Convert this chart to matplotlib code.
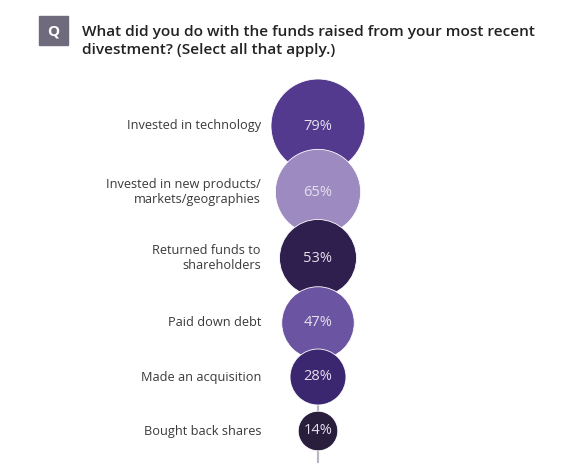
import matplotlib.pyplot as plt
from matplotlib.patches import Rectangle

plt.rcParams['font.family'] = ['Open Sans', 'DejaVu Sans']

# data
labels = ['Invested in technology',
          'Invested in new products/\nmarkets/geographies',
          'Returned funds to\nshareholders',
          'Paid down debt',
          'Made an acquisition',
          'Bought back shares']
values = [79, 65, 53, 47, 28, 14]
colors = ['#533a8e', '#9d8ac1', '#2e1f4f', '#6b54a1', '#3b2670', '#2a1e3d']

title = ('What did you do with the funds raised from your most recent\n'
         'divestment? (Select all that apply.)')

# layout (pixel coords, figure is 577x475 at dpi 100)
row_y = [126, 192, 258, 323, 377, 431]
cx = 318
label_x = 261

fig = plt.figure(figsize=(5.77, 4.75), dpi=100)
ax = fig.add_axes([0, 0, 1, 1])
ax.set_xlim(0, 577)
ax.set_ylim(475, 0)
ax.axis('off')

# Q badge + title
ax.add_patch(Rectangle((39, 16), 29, 29, color='#6f6b7c', zorder=2))
ax.text(53.5, 31, 'Q', color='white', fontsize=11, fontweight='bold',
        ha='center', va='center', zorder=3)
ax.text(82, 41, title, fontsize=11.1, fontweight='semibold', color='#222222',
        ha='left', va='center', linespacing=1.4)

# vertical spine line
ax.plot([cx, cx], [82, 462], color='#b8b6c0', lw=1.5, zorder=1)

# bubbles: area proportional to value
sizes = [58 * v for v in values]
ax.scatter([cx] * len(values), row_y, s=sizes, c=colors,
           edgecolors='white', linewidths=0.6, zorder=2)

for y, lab, v in zip(row_y, labels, values):
    ax.text(label_x, y, lab, ha='right', va='center', fontsize=9.2,
            color='#3a3a3a', linespacing=1.15)
    ax.text(cx, y, f'{v}%', ha='center', va='center', fontsize=10.5,
            color='#e4e0ec', zorder=3)

fig.savefig('out.png', dpi=100)
